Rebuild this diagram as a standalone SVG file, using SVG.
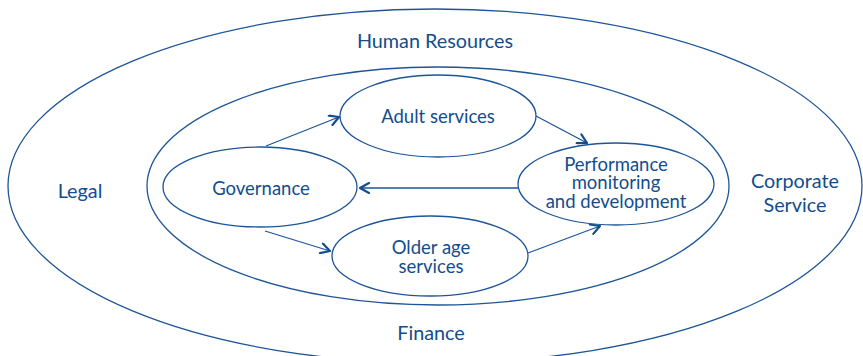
<svg xmlns="http://www.w3.org/2000/svg" width="863" height="356" viewBox="0 0 863 356">
  <style>
    .ring { fill: none; stroke: #1d5598; stroke-width: 1.3; }
    .node ellipse { fill: #ffffff; stroke: #1d5598; stroke-width: 1.3; }
    .lbl { font-family: Lato, "Open Sans", "Liberation Sans", sans-serif; fill: #124d8e; text-anchor: middle; }
    .big { font-size: 19.8px; }
    .small { font-size: 18.5px; }
    .edge { fill: none; stroke: #1d5598; stroke-width: 1.3; }
  </style>
  <defs>
    <marker id="chev" viewBox="0 0 12 12" refX="11" refY="6" markerWidth="12" markerHeight="12" markerUnits="userSpaceOnUse" orient="auto">
      <path d="M2,1 L11,6 L2,11" fill="none" stroke="#124d8e" stroke-width="2.2" stroke-linecap="round" stroke-linejoin="round"/>
    </marker>
  </defs>
  <rect width="863" height="356" fill="#ffffff"/>

  <!-- outer organisational rings -->
  <g id="rings">
    <ellipse class="ring" cx="435" cy="186" rx="427" ry="177"/>
    <ellipse class="ring" cx="438" cy="186" rx="291" ry="119"/>
  </g>

  <g id="ring-labels">
    <text class="lbl big" x="435" y="48">Human Resources</text>
    <text class="lbl big" x="80" y="198">Legal</text>
    <text class="lbl big" x="795" y="188">Corporate</text>
    <text class="lbl big" x="795" y="212">Service</text>
    <text class="lbl big" x="431" y="340">Finance</text>
  </g>

  <g id="connectors">
    <line class="edge" x1="266" y1="146" x2="339" y2="117" marker-end="url(#chev)"/>
    <line class="edge" x1="536" y1="116" x2="587" y2="143" marker-end="url(#chev)"/>
    <line class="edge" x1="518" y1="188" x2="360" y2="188" marker-end="url(#chev)"/>
    <line class="edge" x1="265" y1="231" x2="330" y2="251" marker-end="url(#chev)"/>
    <line class="edge" x1="528" y1="253" x2="600" y2="226" marker-end="url(#chev)"/>
  </g>

  <g id="governance" class="node">
    <ellipse cx="260" cy="187" rx="97" ry="40"/>
    <text class="lbl small" x="261" y="195">Governance</text>
  </g>

  <g id="adult-services" class="node">
    <ellipse cx="438" cy="116" rx="98" ry="41"/>
    <text class="lbl small" x="438" y="123">Adult services</text>
  </g>

  <g id="performance" class="node">
    <ellipse cx="616" cy="184" rx="98" ry="41"/>
    <text class="lbl small" x="616" y="171">Performance</text>
    <text class="lbl small" x="616" y="189">monitoring</text>
    <text class="lbl small" x="616" y="208">and development</text>
  </g>

  <g id="older-age-services" class="node">
    <ellipse cx="430" cy="256" rx="98" ry="40"/>
    <text class="lbl small" x="431" y="254">Older age</text>
    <text class="lbl small" x="431" y="273">services</text>
  </g>
</svg>
